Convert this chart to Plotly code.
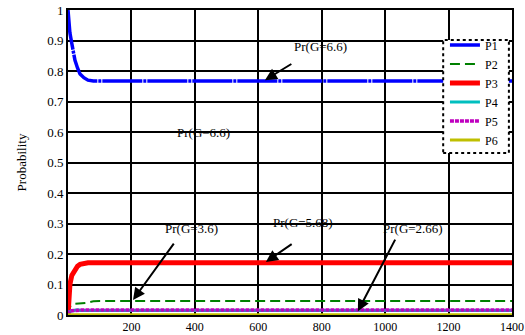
import plotly.graph_objects as go

# ---- data ----
p1_x = [0, 3, 6, 12, 22, 30, 38, 50, 63, 80, 1400]
p1_y = [1.0, 0.95, 0.925, 0.89, 0.835, 0.81, 0.79, 0.778, 0.77, 0.767, 0.767]

p2_x = [0, 8, 15, 30, 60, 80, 100, 1400]
p2_y = [0.0, 0.03, 0.036, 0.037, 0.040, 0.045, 0.046, 0.046]

p3_x = [0, 3, 6, 12, 22, 30, 38, 50, 63, 80, 1400]
p3_y = [0.0, 0.06, 0.10, 0.13, 0.15, 0.16, 0.166, 0.169, 0.171, 0.171, 0.171]

p4_x = [0, 5, 10, 20, 30, 40, 1400]
p4_y = [0.0, 0.010, 0.013, 0.016, 0.017, 0.015, 0.015]

p5_x = [0, 5, 10, 20, 40, 1400]
p5_y = [0.0, 0.012, 0.014, 0.015, 0.016, 0.016]

p6_x = [0, 1400]
p6_y = [0.001, 0.001]

names = ["P1", "P2", "P3", "P4", "P5", "P6"]
colors = ["#0000ff", "#008000", "#ff0000", "#00bfbf", "#bf00bf", "#bfbf00"]
dashes = ["40px,1px,3px,1px", "10px,5px", "solid", "solid", "4px,1px", "solid"]
widths = [3.5, 2, 5, 3, 3.5, 3]

x_ticks = [200, 400, 600, 800, 1000, 1200, 1400]
y_ticks = [0, 0.1, 0.2, 0.3, 0.4, 0.5, 0.6, 0.7, 0.8, 0.9, 1]
y_tick_text = ["0", "0.1", "0.2", "0.3", "0.4", "0.5", "0.6", "0.7", "0.8", "0.9", "1"]

labels = [("Pr(G=6.6)", 795, 0.879), ("Pr(G=6.6)", 426, 0.597),
          ("Pr(G=3.6)", 388, 0.282), ("Pr(G=5.68)", 741, 0.302),
          ("Pr(G=2.66)", 1088, 0.285)]
arrows = [(709, 0.826, 621, 0.770), (337, 0.239, 205, 0.049),
          (710, 0.236, 624, 0.174), (1034, 0.252, 914, 0.012)]

series = [(p1_x, p1_y), (p2_x, p2_y), (p3_x, p3_y), (p4_x, p4_y), (p5_x, p5_y), (p6_x, p6_y)]

fig = go.Figure()
for (xs, ys), n, c, d, w in zip(series, names, colors, dashes, widths):
    fig.add_trace(go.Scatter(x=xs, y=ys, mode="lines", name=n,
                             line=dict(color=c, dash=d, width=w)))

font = "Liberation Serif"
for t, x, y in labels:
    fig.add_annotation(x=x, y=y, text=t, showarrow=False,
                       font=dict(family=font, size=13, color="black"))
for ax, ay, x, y in arrows:
    fig.add_annotation(x=x, y=y, ax=ax, ay=ay, axref="x", ayref="y",
                       text="", showarrow=True, arrowhead=2, arrowsize=1.2,
                       arrowwidth=2, arrowcolor="black")

# dotted legend frame
fig.add_shape(type="rect", xref="paper", yref="paper",
              x0=0.845, x1=0.993, y0=0.531, y1=0.902,
              line=dict(color="black", width=2, dash="dot"),
              fillcolor="white", layer="above")

fig.update_layout(
    width=525, height=335,
    margin=dict(l=68, r=13, t=10, b=20, autoexpand=False),
    paper_bgcolor="white", plot_bgcolor="white",
    font=dict(family=font, size=13, color="black"),
    showlegend=True,
    legend=dict(x=0.849, y=0.933, xanchor="left", yanchor="top",
                bgcolor="rgba(0,0,0,0)", borderwidth=0,
                font=dict(family=font, size=12, color="black"),
                tracegroupgap=0),
    xaxis=dict(range=[0, 1400], tickvals=x_ticks, ticktext=[str(v) for v in x_ticks],
               showgrid=True, gridcolor="black", gridwidth=2,
               showline=True, linecolor="black", linewidth=2, mirror=True,
               zeroline=False, ticks="", ticklabelstandoff=0,
               tickfont=dict(family=font, size=12)),
    yaxis=dict(range=[0, 1], tickvals=y_ticks, ticktext=y_tick_text,
               showgrid=True, gridcolor="black", gridwidth=2,
               showline=True, linecolor="black", linewidth=2, mirror=True,
               zeroline=False, ticks="",
               title=dict(text="Probability", standoff=18,
                          font=dict(family=font, size=13)),
               tickfont=dict(family=font, size=13)),
)

fig.write_html("out.html")
